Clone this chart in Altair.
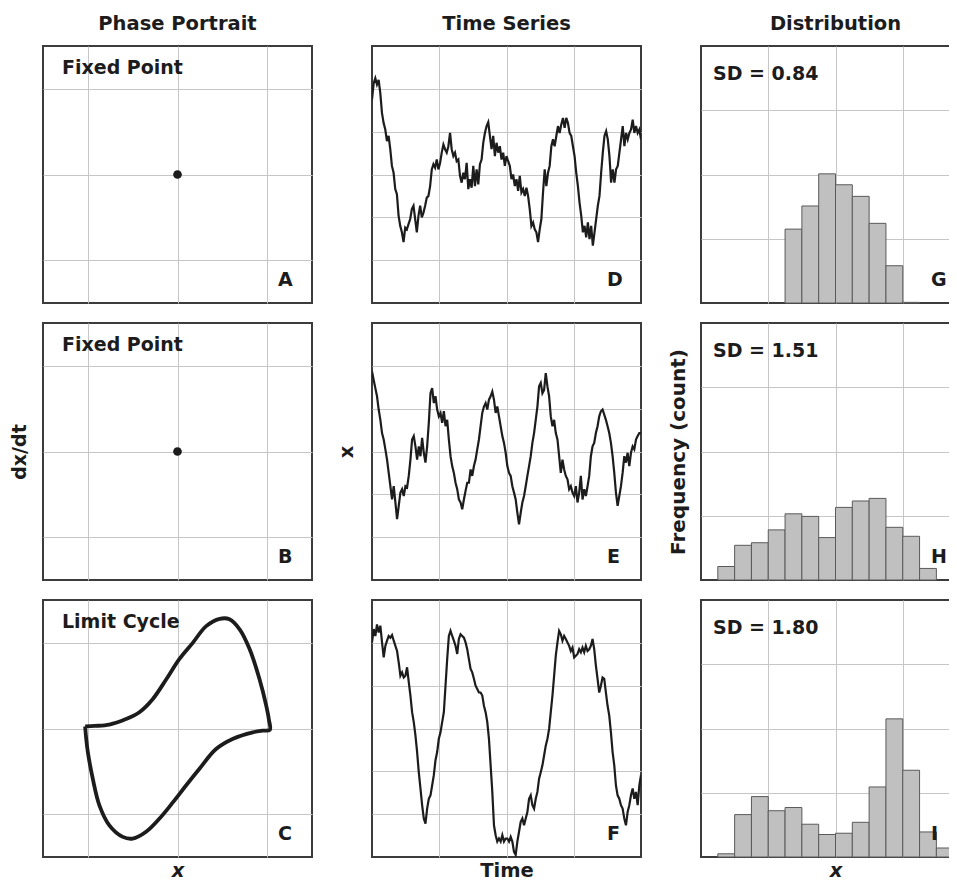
import altair as alt
import pandas as pd

FONT = "DejaVu Sans"
INK = "#1c1c1c"
FRAME = "#3c3c3c"
GRID = "#c6c6c6"
BAR_FILL = "#c0c0c0"
BAR_EDGE = "#5a5a5a"

W = 269
H = 257

# ---------------- text ----------------
col_titles = ["Phase Portrait", "Time Series", "Distribution"]
letters = ["A", "B", "C", "D", "E", "F", "G", "H", "I"]
portrait_labels = ["Fixed Point", "Fixed Point", "Limit Cycle"]
sd_labels = ["SD = 0.84", "SD = 1.51", "SD = 1.80"]

# ---------------- phase portraits ----------------
fixed_x = [0.0]
fixed_y = [0.0]

cycle_x = [-2.06, -1.85, -1.52, -1.15, -0.85, -0.55, -0.25, 0.04, 0.34, 0.64,
           0.94, 1.16, 1.39, 1.61, 1.83, 1.98, 2.04, 2.06, 1.90, 1.68,
           1.24, 0.86, 0.49, 0.19, -0.10, -0.40, -0.70, -1.00, -1.22, -1.52,
           -1.74, -1.89, -2.00, -2.04, -2.06]
cycle_y = [0.05, 0.06, 0.09, 0.22, 0.38, 0.69, 1.15, 1.62, 2.00, 2.39,
           2.56, 2.55, 2.31, 1.85, 1.15, 0.53, 0.20, -0.03, -0.05, -0.09,
           -0.24, -0.48, -0.94, -1.33, -1.72, -2.10, -2.41, -2.57, -2.53, -2.26,
           -1.80, -1.17, -0.55, -0.20, 0.05]

# ---------------- time series ----------------
series_D = [1.75, 2.13, 2.25, 2.10, 2.21, 1.90, 1.44, 1.20, 1.05, 0.78,
            0.90, 0.59, 0.20, 0.04, -0.34, -0.46, -0.96, -1.20, -1.35, -1.58,
            -1.24, -1.28, -1.16, -1.04, -0.81, -0.73, -1.04, -1.35, -0.96, -0.73,
            -1.00, -0.89, -0.73, -0.54, -0.50, -0.27, 0.12, 0.24, 0.16, 0.35,
            0.12, 0.27, 0.51, 0.70, 0.59, 0.51, 0.66, 0.97, 0.59, 0.43,
            0.51, 0.31, 0.35, -0.03, -0.19, 0.04, -0.11, 0.27, -0.34, -0.11,
            -0.31, 0.20, -0.27, 0.12, -0.23, 0.24, 0.35, 0.74, 0.97, 1.13,
            1.22, 0.90, 0.59, 0.90, 0.43, 0.74, 0.51, 0.66, 0.35, 0.51,
            0.20, 0.43,
            0.31, 0.20, -0.11, 0.00, -0.27, -0.11, -0.38, -0.03, -0.42, -0.34,
            -0.50, -0.31, -0.50, -0.81, -1.20, -1.12, -1.28, -1.35, -1.58, -1.28,
            -1.04, -0.42, 0.12, -0.27, 0.04, 0.20, 0.66, 0.82, 0.66, 0.90,
            1.13, 0.97, 1.17, 1.32, 1.09, 1.32, 1.20, 0.97, 0.90, 0.66,
            0.43, 0.04, -0.27, -0.66, -0.96, -1.35, -1.20, -1.47, -1.12, -1.51,
            -1.20, -1.66, -1.35, -1.04, -0.73, -0.50, 0.04, 0.51, 0.90, 1.01,
            0.82, 0.43, -0.19, 0.12, -0.19, 0.12, 0.20, 0.51, 0.82, 1.13,
            0.66, 0.97, 0.82, 0.97, 1.05, 1.28, 0.97, 1.13, 0.97, 1.05,
            0.82]

series_E = [1.87, 1.67, 1.48, 1.29, 0.98, 0.74, 0.43, 0.28, 0.05, -0.19,
            -0.50, -0.81, -1.12, -0.81, -1.19, -1.58, -1.27, -0.96, -0.88, -1.04,
            -0.81, -0.84, -0.57, -0.19, 0.28, 0.36, 0.12, -0.19, 0.12, -0.11,
            0.32, -0.03, -0.26, 0.12, 0.67, 1.36, 1.48, 1.13, 1.29, 0.98,
            0.82, 0.90, 0.67, 0.94, 0.59, 0.74, 0.28, -0.11, -0.34, -0.50,
            -0.73, -0.88, -1.12, -1.19, -1.35, -1.12, -0.92, -0.73, -0.73, -0.42,
            -0.57, -0.34, -0.19, 0.05, 0.28, 0.59, 0.90, 1.05, 1.13, 0.98,
            1.21, 1.29, 1.40, 1.21, 0.90, 1.05, 0.82, 0.59, 0.36, 0.20,
            -0.03, -0.34, -0.50, -0.57, -0.81, -0.96, -1.12, -1.43, -1.70, -1.43,
            -1.19, -1.04, -0.81, -0.57, -0.34, -0.11, 0.20, 0.43, 0.74, 1.05,
            1.52, 1.60, 1.36, 1.44, 1.83, 1.52, 1.29, 0.82, 0.59, 0.74,
            0.43, 0.28, -0.11, -0.50, -0.19, -0.42, -0.57, -0.65, -0.88, -0.81,
            -0.96, -1.04, -0.81, -1.19, -0.96, -0.57, -1.12, -0.88, -1.04, -0.81,
            -0.57, -0.11, 0.12, 0.20, 0.43, 0.59, 0.82, 0.94, 0.98, 0.86,
            0.74, 0.59, 0.43, 0.20, -0.11, -0.50, -0.96, -1.27, -1.04, -0.81,
            -0.50, -0.11, -0.26, -0.03, -0.34, -0.03, 0.12, 0.05, 0.28, 0.36,
            0.43, 0.43]

series_F = [2.01, 2.32, 2.16, 2.43, 2.24, 2.40, 2.01, 1.66, 1.93, 2.05,
            2.16, 2.12, 2.18, 2.05, 1.93, 1.81, 1.54, 1.23, 1.31, 1.19,
            1.23, 1.43, 1.08, 0.77, 0.38, 0.15, -0.16, -0.55, -1.02, -1.40,
            -1.79, -2.10, -2.22, -1.87, -1.64, -1.56, -1.33, -1.09, -0.74, -0.55,
            -0.24, -0.09, 0.15, 0.38, 1.00, 1.62, 2.16, 2.28, 2.16, 2.05,
            1.93, 1.74, 2.09, 2.20, 2.16, 2.12, 2.01, 1.85, 1.62, 1.39,
            1.31, 1.16, 1.00, 0.92, 0.84, 0.84, 0.77, 0.53, 0.38, 0.15,
            -0.24, -0.86, -1.48, -2.26, -2.49, -2.64, -2.57, -2.64, -2.49, -2.64,
            -2.57, -2.57, -2.64, -2.53, -2.64, -2.88, -2.95, -2.64, -2.41, -2.18,
            -2.10, -2.26, -2.10, -1.95, -1.64, -1.56, -1.79, -1.87, -1.64, -1.48,
            -1.17, -1.02, -0.86, -0.63, -0.40, -0.24, -0.01, 0.38, 0.77, 1.23,
            1.70, 2.01, 2.28, 2.20, 2.05, 2.16, 2.09, 2.01, 1.93, 1.81,
            1.89, 1.66, 1.70, 1.74, 1.85, 1.78, 1.89, 1.78, 1.93, 1.81,
            1.85, 1.93, 2.09, 1.85, 1.47, 1.16, 0.84, 1.00, 1.19, 1.16,
            0.84, 0.53, 0.30, -0.09, -0.55, -0.86, -1.33, -1.56, -1.64, -1.79,
            -1.87, -2.10, -2.26, -1.95, -1.79, -1.56, -1.40, -1.64, -1.48, -1.79,
            -1.33, -1.09]

# ---------------- histograms ----------------
bin_width = 0.5
G_start = [-1.5, -1.0, -0.5, 0.0, 0.5, 1.0, 1.5, 2.0]
G_count = [115, 151, 201, 184, 166, 124, 58, 1]
H_start = [-3.5, -3.0, -2.5, -2.0, -1.5, -1.0, -0.5, 0.0, 0.5, 1.0, 1.5, 2.0, 2.5]
H_count = [21, 54, 58, 78, 103, 99, 66, 113, 123, 127, 82, 68, 18]
I_start = [-3.5, -3.0, -2.5, -2.0, -1.5, -1.0, -0.5, 0.0, 0.5, 1.0, 1.5, 2.0, 2.5, 3.0]
I_count = [5, 66, 94, 72, 77, 51, 35, 37, 54, 109, 215, 135, 39, 14]

TITLE_SIZE = 19.5
AXIS_TITLE_SIZE = 19.5
LABEL_SIZE = 19
BOTTOM_PAD = 4


def axis(values, with_title=False, italic=False, pad=15, size=AXIS_TITLE_SIZE):
    kw = dict(values=values, grid=True, gridColor=GRID, gridWidth=1, gridOpacity=1,
              labels=False, ticks=False, domain=False)
    if with_title:
        kw.update(titleFont=FONT, titleFontSize=size, titleFontWeight="bold",
                  titleColor=INK, titlePadding=pad)
        if italic:
            kw["titleFontStyle"] = "italic"
    return alt.Axis(**kw)


def text_layer(label, x, y, align="left"):
    return alt.Chart(pd.DataFrame({"label": [label]})).mark_text(
        font=FONT, fontSize=LABEL_SIZE, fontWeight="bold", color=INK,
        align=align, baseline="alphabetic"
    ).encode(x=alt.value(x), y=alt.value(y), text="label:N")


def col_title(text):
    return alt.TitleParams(text=text, font=FONT, fontSize=TITLE_SIZE, fontWeight="bold",
                           color=INK, anchor="middle", offset=12)


def portrait(row):
    if row < 2:
        df = pd.DataFrame({"x": fixed_x, "y": fixed_y})
        main = alt.Chart(df).mark_circle(size=75, color=INK, opacity=1)
        enc_order = None
    else:
        df = pd.DataFrame({"x": cycle_x, "y": cycle_y, "k": list(range(len(cycle_x)))})
        main = alt.Chart(df).mark_line(color=INK, strokeWidth=3.8, interpolate="catmull-rom")
        enc_order = "k:Q"
    xt = "x" if row == 2 else None
    yt = "dx/dt" if row == 1 else None
    enc = dict(
        x=alt.X("x:Q", scale=alt.Scale(domain=[-3, 3], nice=False, zero=False),
                axis=axis([-2, 0, 2], xt is not None, italic=True, pad=BOTTOM_PAD), title=xt),
        y=alt.Y("y:Q", scale=alt.Scale(domain=[-3, 3], nice=False, zero=False),
                axis=axis([-2, 0, 2], yt is not None, pad=14, size=19), title=yt),
    )
    if enc_order:
        enc["order"] = enc_order
    main = main.encode(**enc)
    layer = alt.layer(main,
                      text_layer(portrait_labels[row], 19, 28),
                      text_layer(letters[row], 235, H - 17))
    props = dict(width=W, height=H)
    if row == 0:
        props["title"] = col_title(col_titles[0])
    return layer.properties(**props)


def timeseries(row, values):
    n = len(values)
    time = [100.0 * i / (n - 1) for i in range(n)]
    df = pd.DataFrame({"time": time, "value": values})
    xt = "Time" if row == 2 else None
    yt = "x" if row == 1 else None
    main = alt.Chart(df).mark_line(color=INK, strokeWidth=2.2, clip=True).encode(
        x=alt.X("time:Q", scale=alt.Scale(domain=[0, 100], nice=False, zero=False),
                axis=axis([25, 50, 75], xt is not None, pad=BOTTOM_PAD), title=xt),
        y=alt.Y("value:Q", scale=alt.Scale(domain=[-3, 3], nice=False, zero=False),
                axis=axis([-2, -1, 0, 1, 2], yt is not None, pad=16), title=yt),
    )
    layer = alt.layer(main, text_layer(letters[3 + row], 235, H - 17))
    props = dict(width=W, height=H)
    if row == 0:
        props["title"] = col_title(col_titles[1])
    return layer.properties(**props)


def histogram(row, starts, counts):
    df = pd.DataFrame({"start": starts,
                       "end": [s + bin_width for s in starts],
                       "count": counts})
    xt = "x" if row == 2 else None
    yt = "Frequency (count)" if row == 1 else None
    main = alt.Chart(df).mark_rect(color=BAR_FILL, stroke=BAR_EDGE, strokeWidth=1, opacity=1).encode(
        x=alt.X("start:Q", scale=alt.Scale(domain=[-4, 4], nice=False, zero=False),
                axis=axis([-2, 0, 2], xt is not None, italic=True, pad=BOTTOM_PAD), title=xt),
        x2="end:Q",
        y=alt.Y("count:Q", scale=alt.Scale(domain=[0, 400], nice=False),
                axis=axis([100, 200, 300], yt is not None, pad=13, size=20), title=yt),
        y2=alt.datum(0),
    )
    layer = alt.layer(main,
                      text_layer(sd_labels[row], 12, 34),
                      text_layer(letters[6 + row], 230, H - 17))
    props = dict(width=W, height=H)
    if row == 0:
        props["title"] = col_title(col_titles[2])
    return layer.properties(**props)


panels = []
series = [series_D, series_E, series_F]
hist = [(G_start, G_count), (H_start, H_count), (I_start, I_count)]
for r in range(3):
    panels += [portrait(r), timeseries(r, series[r]), histogram(r, *hist[r])]

# The picture is a fixed 941 x 874 window onto the grid (the last column is cut
# by its right edge, as in the reference): no autosizing, the padding places the
# first panel and sets the window size.
chart = alt.concat(*panels, columns=3,
                   spacing=alt.RowColnumber(row=20, column=60)).properties(
    bounds="flush",
    background="white",
    autosize=alt.AutoSizeParams(type="none"),
    padding={"left": 35, "top": 38, "right": 906, "bottom": 836},
).configure_view(stroke=FRAME, strokeWidth=2)

chart.save("out.html", embed_options={"renderer": "svg", "actions": False})
